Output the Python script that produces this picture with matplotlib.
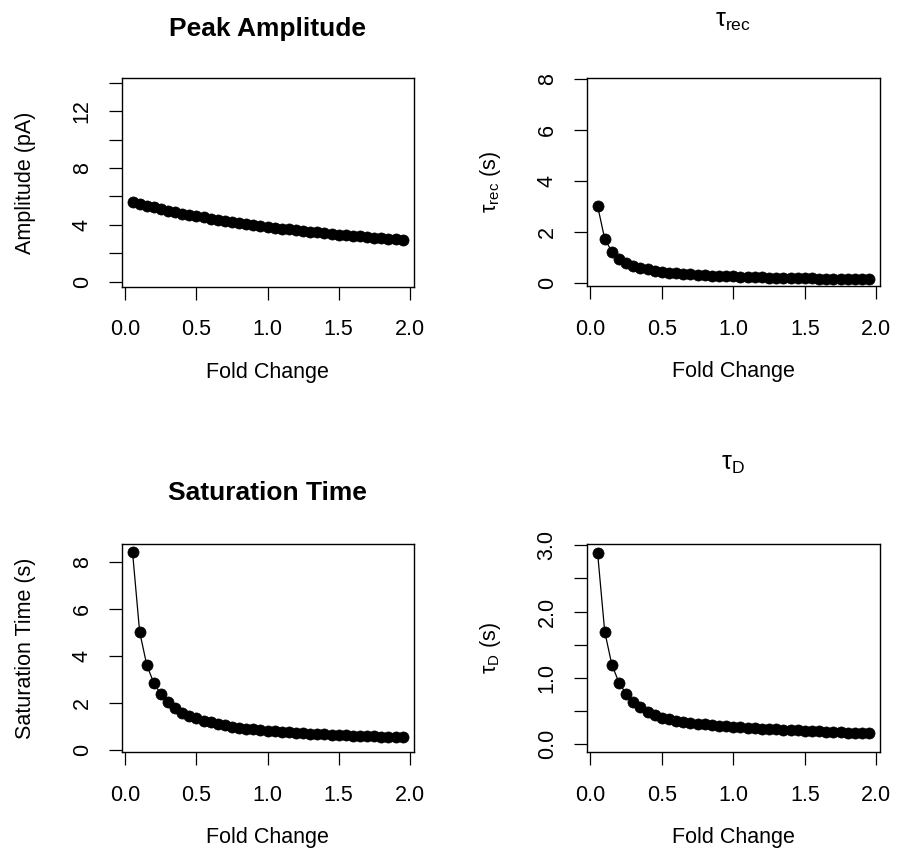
import matplotlib
matplotlib.use("Agg")
import matplotlib.pyplot as plt
import numpy as np

plt.rcParams['font.family'] = ['Liberation Sans', 'DejaVu Sans']
plt.rcParams['mathtext.fontset'] = 'custom'
plt.rcParams['mathtext.rm'] = 'Liberation Sans'
plt.rcParams['mathtext.it'] = 'Liberation Sans:italic'
plt.rcParams['mathtext.bf'] = 'Liberation Sans:bold'

# ---------------- data ----------------
fold_change = [0.05, 0.10, 0.15, 0.20, 0.25, 0.30, 0.35, 0.40, 0.45, 0.50,
               0.55, 0.60, 0.65, 0.70, 0.75, 0.80, 0.85, 0.90, 0.95, 1.00,
               1.05, 1.10, 1.15, 1.20, 1.25, 1.30, 1.35, 1.40, 1.45, 1.50,
               1.55, 1.60, 1.65, 1.70, 1.75, 1.80, 1.85, 1.90, 1.95]

amplitude = [5.60, 5.47, 5.35, 5.23, 5.12, 5.01, 4.90, 4.80, 4.71, 4.62,
             4.53, 4.44, 4.36, 4.28, 4.21, 4.13, 4.06, 3.99, 3.93, 3.86,
             3.80, 3.74, 3.68, 3.63, 3.57, 3.52, 3.47, 3.42, 3.37, 3.32,
             3.28, 3.23, 3.19, 3.15, 3.10, 3.06, 3.03, 2.99, 2.95]

tau_rec = [3.02, 1.72, 1.22, 0.93, 0.77, 0.66, 0.58, 0.52, 0.47, 0.43,
           0.40, 0.37, 0.35, 0.33, 0.31, 0.29, 0.28, 0.265, 0.255, 0.245,
           0.235, 0.225, 0.215, 0.21, 0.20, 0.195, 0.19, 0.185, 0.18, 0.175,
           0.17, 0.165, 0.16, 0.16, 0.155, 0.155, 0.15, 0.15, 0.145]

sat_time = [8.43, 5.03, 3.62, 2.84, 2.37, 2.03, 1.77, 1.59, 1.45, 1.34,
            1.25, 1.17, 1.10, 1.04, 0.99, 0.95, 0.91, 0.88, 0.85, 0.82,
            0.79, 0.77, 0.75, 0.73, 0.71, 0.69, 0.68, 0.66, 0.65, 0.64,
            0.62, 0.61, 0.60, 0.59, 0.58, 0.57, 0.56, 0.55, 0.54]

tau_d = [2.89, 1.70, 1.20, 0.93, 0.76, 0.64, 0.56, 0.49, 0.44, 0.40,
         0.375, 0.355, 0.34, 0.325, 0.31, 0.30, 0.29, 0.28, 0.27, 0.265,
         0.255, 0.25, 0.24, 0.235, 0.23, 0.225, 0.22, 0.215, 0.21, 0.205,
         0.20, 0.195, 0.19, 0.185, 0.18, 0.178, 0.175, 0.17, 0.165]

x_ticks = [0.0, 0.5, 1.0, 1.5, 2.0]
x_ticklabels = ["0.0", "0.5", "1.0", "1.5", "2.0"]

amp_ticks = [0, 2, 4, 6, 8, 10, 12, 14]
amp_labels = ["0", "", "4", "", "8", "", "12", ""]
rec_ticks = [0, 2, 4, 6, 8]
rec_labels = ["0", "2", "4", "6", "8"]
sat_ticks = [0, 2, 4, 6, 8]
sat_labels = ["0", "2", "4", "6", "8"]
d_ticks = [0.0, 0.5, 1.0, 1.5, 2.0, 2.5, 3.0]
d_labels = ["0.0", "", "1.0", "", "2.0", "", "3.0"]

titles = ["Peak Amplitude", r"τ$_{\mathrm{rec}}$", "Saturation Time", r"τ$_{\mathrm{D}}$"]
title_bold = [True, False, True, False]
ylabels = ["Amplitude (pA)", r"τ$_{\mathrm{rec}}$ (s)", "Saturation Time (s)", r"τ$_{\mathrm{D}}$ (s)"]
xlabel = "Fold Change"

# ---------------- figure ----------------
W, H = 897, 868
fig = plt.figure(figsize=(W / 100, H / 100), dpi=100)

FS = 15.5

def px_axes(l, t, r, b):
    return [l / W, 1 - b / H, (r - l) / W, (b - t) / H]

panels = [
    (px_axes(121.7, 78.3, 413.5, 286.7), amplitude, amp_ticks, amp_labels, (-0.35, 14.32)),
    (px_axes(586.7, 78.3, 880.0, 286.3), tau_rec, rec_ticks, rec_labels, (-0.14, 8.02)),
    (px_axes(121.7, 544.0, 413.5, 752.3), sat_time, sat_ticks, sat_labels, (-0.10, 8.76)),
    (px_axes(586.7, 544.0, 880.0, 752.3), tau_d, d_ticks, d_labels, (-0.12, 3.02)),
]

title_y = [1.203, 1.25, 1.211, 1.355]

for i, (rect, yvals, yt, ytl, ylim) in enumerate(panels):
    ax = fig.add_axes(rect)
    ax.plot(fold_change, yvals, color='black', lw=0.9, marker='o',
            markersize=8.0, markerfacecolor='black', markeredgecolor='black',
            markeredgewidth=0.5)
    ax.set_xlim(-0.026, 2.026)
    ax.set_ylim(*ylim)
    ax.set_xticks(x_ticks)
    ax.set_xticklabels(x_ticklabels)
    ax.set_yticks(yt)
    ax.set_yticklabels(ytl, rotation=90, va='center', ha='right')
    ax.tick_params(axis='x', direction='out', length=9.4, width=0.9,
                   pad=14.0, labelsize=FS)
    ax.tick_params(axis='y', direction='out', length=9.4, width=0.9,
                   pad=11.5, labelsize=FS)
    for sp in ax.spines.values():
        sp.set_linewidth(1.0)
        sp.set_color('black')
    ax.text(0.5, title_y[i], titles[i], transform=ax.transAxes,
            ha='center', va='baseline',
            fontsize=19 if title_bold[i] else 18,
            fontweight='bold' if title_bold[i] else 'normal')
    ax.text(-0.328, 0.5, ylabels[i], transform=ax.transAxes, rotation=90,
            ha='center', va='center', fontsize=FS)
    ax.text(0.5, -0.41, xlabel, transform=ax.transAxes,
            ha='center', va='center', fontsize=FS)

fig.savefig("out.png", dpi=100, facecolor='white')
